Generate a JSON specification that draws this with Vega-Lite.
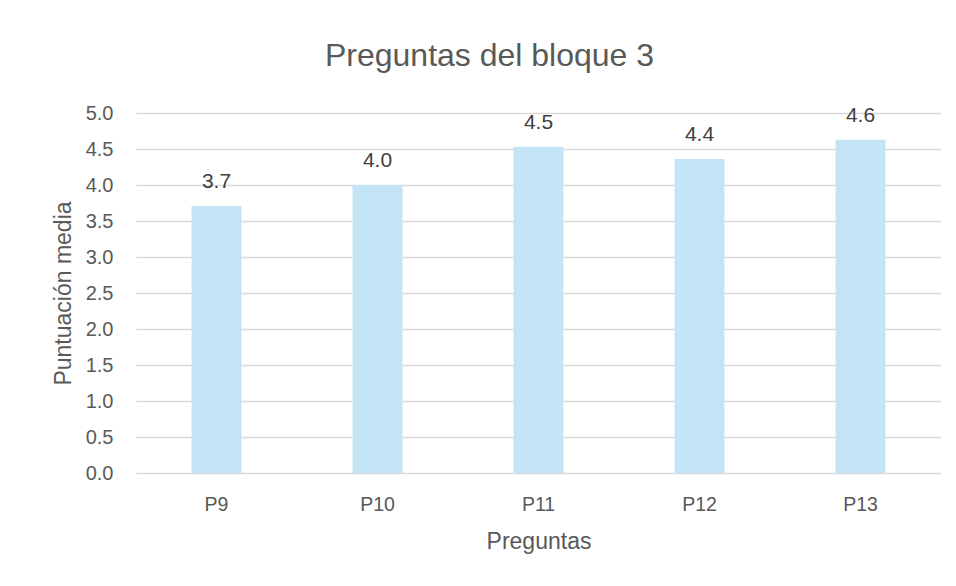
{
  "$schema": "https://vega.github.io/schema/vega-lite/v6.json",
  "autosize": {"type": "none"},
  "width": 805,
  "height": 360,
  "padding": {"left": 136, "top": 113, "right": 15, "bottom": 113},
  "background": "white",
  "title": {
    "text": "Preguntas del bloque 3",
    "font": "Liberation Sans",
    "fontSize": 32,
    "fontWeight": "normal",
    "color": "#595959",
    "anchor": "middle",
    "frame": "group",
    "dx": -49,
    "offset": 30
  },
  "data": {
    "values": [
      {"pregunta": "P9", "valor": 3.71},
      {"pregunta": "P10", "valor": 4.0},
      {"pregunta": "P11", "valor": 4.53},
      {"pregunta": "P12", "valor": 4.36},
      {"pregunta": "P13", "valor": 4.63}
    ]
  },
  "encoding": {
    "x": {
      "field": "pregunta",
      "type": "nominal",
      "sort": null,
      "scale": {"paddingInner": 0.69, "paddingOuter": 0.345},
      "axis": {
        "title": "Preguntas",
        "labelAngle": 0,
        "labelFont": "Liberation Sans",
        "labelFontSize": 19.5,
        "labelColor": "#595959",
        "labelPadding": 22,
        "ticks": false,
        "domain": false,
        "titleFont": "Liberation Sans",
        "titleFontSize": 23,
        "titleFontWeight": "normal",
        "titleColor": "#595959",
        "titlePadding": 17
      }
    },
    "y": {
      "field": "valor",
      "type": "quantitative",
      "scale": {"domain": [0, 5]},
      "axis": {
        "title": "Puntuación media",
        "values": [0, 0.5, 1, 1.5, 2, 2.5, 3, 3.5, 4, 4.5, 5],
        "format": ".1f",
        "labelFont": "Liberation Sans",
        "labelFontSize": 20,
        "labelColor": "#595959",
        "labelPadding": 23,
        "ticks": false,
        "domain": false,
        "gridColor": "#d9d9d9",
        "gridWidth": 1.5,
        "titleFont": "Liberation Sans",
        "titleFontSize": 23,
        "titleFontWeight": "normal",
        "titleColor": "#595959",
        "titlePadding": 10
      }
    }
  },
  "layer": [
    {"mark": {"type": "bar", "color": "#c2e4f5"}},
    {
      "mark": {
        "type": "text",
        "font": "Liberation Sans",
        "fontSize": 21,
        "color": "#404040",
        "baseline": "alphabetic",
        "dy": -18
      },
      "encoding": {
        "text": {"field": "valor", "type": "quantitative", "format": ".1f"}
      }
    }
  ],
  "config": {"view": {"stroke": null}}
}
